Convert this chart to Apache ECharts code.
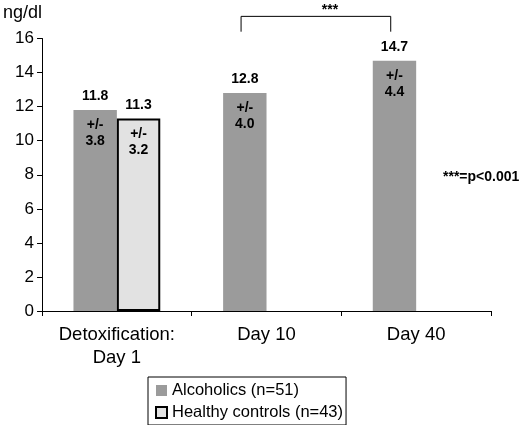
<!DOCTYPE html>
<html>
<head>
<meta charset="utf-8">
<script src="https://cdn.jsdelivr.net/npm/echarts@6/dist/echarts.min.js"></script>
<style>
  html, body { margin: 0; padding: 0; background: #fff; }
  #main { width: 520px; height: 425px; }
</style>
</head>
<body>
<div id="main"></div>
<script>
var categories = ['Detoxification:\nDay 1', 'Day 10', 'Day 40'];
var alcoholics = [11.8, 12.8, 14.7];
var alcoholicsSd = [3.8, 4.0, 4.4];
var controls = [11.3, null, null];
var controlsSd = [3.2, null, null];
var seriesNames = ['Alcoholics (n=51)', 'Healthy controls (n=43)'];

var font = '"Liberation Sans", Arial, sans-serif';

function barLabel(sd) {
    return {
        show: true,
        position: ['50%', -21.5],
        align: 'center',
        verticalAlign: 'top',
        fontFamily: font,
        formatter: function (p) {
            return '{v|' + p.value.toFixed(1) + '}\n{g| }\n{s|+/-}\n{s|' + sd[p.dataIndex].toFixed(1) + '}';
        },
        rich: {
            v: { fontSize: 14, fontWeight: 'bold', lineHeight: 16, color: '#000', fontFamily: font },
            g: { fontSize: 10, lineHeight: 13 },
            s: { fontSize: 14, fontWeight: 'bold', lineHeight: 16, color: '#000', fontFamily: font }
        }
    };
}

var myChart = echarts.init(document.getElementById('main'));

var option = {
    animation: false,
    textStyle: { fontFamily: font },
    grid: { left: 41, right: 29, top: 38.5, bottom: 114 },
    legend: {
        orient: 'vertical',
        left: 148,
        top: 377,
        padding: [5, 3, 4, 7],
        itemWidth: 11,
        itemHeight: 11,
        itemGap: 5,
        borderColor: '#000',
        borderWidth: 1,
        icon: 'rect',
        textStyle: { fontSize: 16.5, color: '#000', fontFamily: font },
        data: seriesNames
    },
    xAxis: {
        type: 'category',
        data: categories,
        axisLine: { lineStyle: { color: '#000', width: 1 } },
        axisTick: { show: true, length: 5, lineStyle: { color: '#000' } },
        axisLabel: { interval: 0, fontSize: 18.5, color: '#000', margin: 12, lineHeight: 23, fontFamily: font }
    },
    yAxis: {
        type: 'value',
        min: 0,
        max: 16,
        interval: 2,
        name: 'ng/dl',
        nameLocation: 'end',
        nameGap: 16,
        nameTextStyle: { fontSize: 18, color: '#000', align: 'right', fontFamily: font },
        axisLine: { show: true, lineStyle: { color: '#000', width: 1 } },
        axisTick: { show: true, length: 5, lineStyle: { color: '#000' } },
        axisLabel: { fontSize: 17, color: '#000', margin: 8, fontFamily: font },
        splitLine: { show: false }
    },
    series: [
        {
            name: seriesNames[0],
            type: 'bar',
            data: alcoholics,
            barWidth: '29%',
            barGap: '0%',
            itemStyle: { color: '#9b9b9b' },
            label: barLabel(alcoholicsSd)
        },
        {
            name: seriesNames[1],
            type: 'bar',
            data: controls,
            barWidth: '29%',
            barGap: '0%',
            itemStyle: { color: '#e2e2e2', borderColor: '#000', borderWidth: 2 },
            label: barLabel(controlsSd)
        }
    ]
};

myChart.setOption(option);

// significance bracket between Day 10 and Day 40
var c1 = myChart.convertToPixel({ gridIndex: 0 }, ['Day 10', 17.3]);
var c2 = myChart.convertToPixel({ gridIndex: 0 }, ['Day 40', 16.4]);
var bw = c2[0] - c1[0];
var x1 = c1[0] - bw * 0.17;
var x2 = c2[0] - bw * 0.17;
var yTop = c1[1];
var yBottom = c2[1];

myChart.setOption({
    graphic: [
        {
            type: 'polyline',
            shape: { points: [[x1, yBottom], [x1, yTop], [x2, yTop], [x2, yBottom]] },
            style: { stroke: '#000', lineWidth: 1, fill: null }
        },
        {
            type: 'text',
            x: (x1 + x2) / 2 + 14,
            y: yTop - 6,
            style: { text: '***', fill: '#000', font: 'bold 14px ' + font, align: 'center', verticalAlign: 'middle' }
        },
        {
            type: 'text',
            x: 443,
            y: 177,
            style: { text: '***=p<0.001', fill: '#000', font: 'bold 14px ' + font, verticalAlign: 'middle' }
        }
    ]
});
</script>
</body>
</html>
